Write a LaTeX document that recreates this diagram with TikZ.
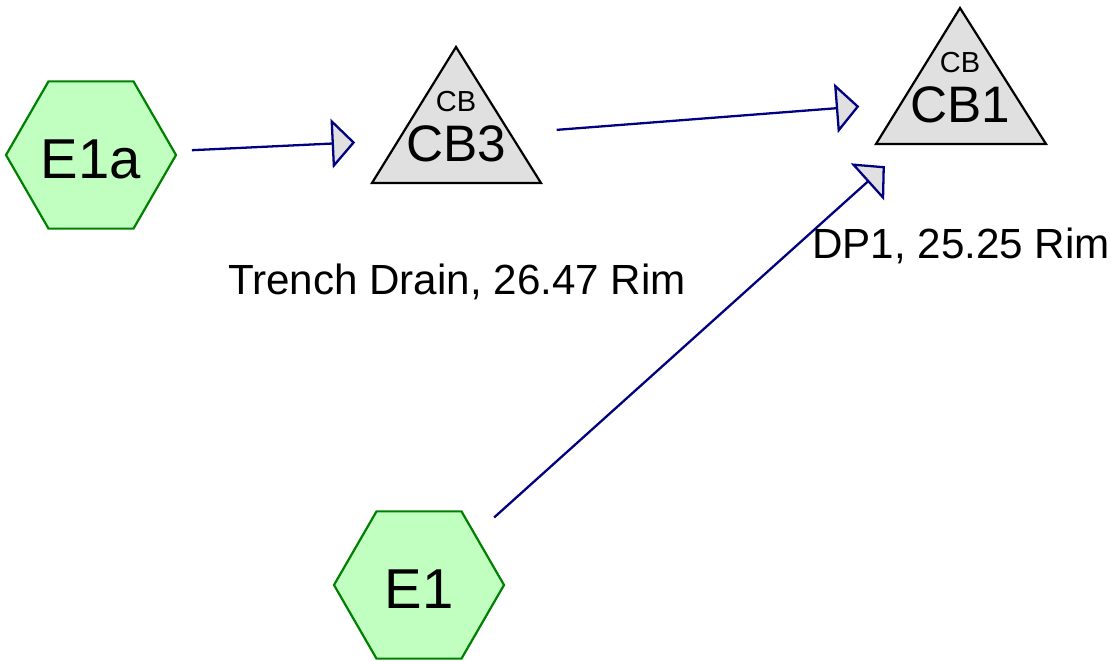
\documentclass[tikz,border=0pt]{standalone}
\usepackage{fontspec}
\setmainfont{Liberation Sans}
\usetikzlibrary{shapes.geometric, arrows.meta}
\definecolor{hexfill}{HTML}{C0FFC0}
\definecolor{hexline}{HTML}{008000}
\definecolor{cbfill}{HTML}{E0E0E0}
\definecolor{pipe}{HTML}{000080}

\begin{document}
\begin{tikzpicture}[area/.style = {draw=hexline, fill=hexfill, line width=1.25pt, regular polygon, regular polygon sides=6, minimum size=3.4cm, inner sep=0pt, text height=0.93cm, text depth=0pt, font=\fontsize{32}{38}\selectfont},
    basin/.style = {inner sep=0pt, minimum size=0pt, label={[inner sep=0pt, label distance=0.5cm, font=\fontsize{16.5}{20}\selectfont]above:CB}, label={[inner sep=0pt, label distance=-0.25cm, font=\fontsize{29.2}{35}\selectfont]below:#1}},
    cbtri/.style = {draw, fill=cbfill, line width=1.25pt},
    flow/.style = {draw=pipe, line width=1.3pt, shorten <=2.02cm, shorten >=2.02cm, -{Triangle[length=0.47cm, width=0.99cm, fill=cbfill]}},
    rim/.style = {anchor=base, inner sep=0pt, font=\fontsize{24}{29}\selectfont}]

        \useasboundingbox (0,0) rectangle (22.4,-13.22);

        \draw[cbtri] (9.12,-0.94) -- (7.44,-3.66) -- (10.82,-3.66) -- cycle;
        \draw[cbtri] (19.2,-0.16) -- (17.52,-2.88) -- (20.92,-2.88) -- cycle;

        \node[area, xshift=1.82cm, yshift=-3.10cm] (e1a) {E1a};
        \node[area, xshift=8.38cm, yshift=-11.70cm] (e1) {E1};
        \node[basin=CB3, xshift=9.12cm, yshift=-2.753cm] (cb3) {};
        \node[basin=CB1, xshift=19.2cm, yshift=-1.973cm] (cb1) {};
        \node[rim, xshift=9.14cm, yshift=-5.89cm] (trench) {Trench Drain, 26.47 Rim};
        \node[rim, xshift=19.22cm, yshift=-5.17cm] (dp1) {DP1, 25.25 Rim};

        \draw[flow] (e1a.center) -- (cb3.center);
        \draw[flow] (cb3.center) -- (cb1.center);
        \draw[flow] (e1.center) -- (cb1.center);

\end{tikzpicture}
\end{document}
